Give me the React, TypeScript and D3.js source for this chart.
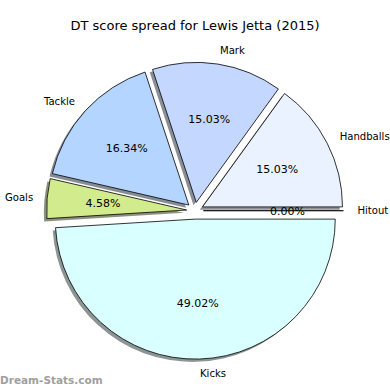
import React from 'react';
import * as d3 from 'd3';

const labels = ['Hitout', 'Handballs', 'Mark', 'Tackle', 'Goals', 'Kicks'];
const values = [0, 15.03, 15.03, 16.34, 4.58, 49.02];
const colors = ['#eaf1ff', '#eaf1ff', '#c4d7ff', '#b4d5ff', '#d2eb8c', '#daffff'];

const W = 390;
const H = 390;
const cx = 195;
const cy = 210.7;
const r = 140;
const explode = 8.4;
const font = 'DejaVu Sans, sans-serif';

export default function App() {
  // matplotlib style: start at 3 o'clock, go counterclockwise
  const pie = d3.pie<number>()
    .sort(null)
    .startAngle(Math.PI / 2)
    .endAngle(Math.PI / 2 - 2 * Math.PI);
  const slices = pie(values);
  const arc = d3.arc<d3.PieArcDatum<number>>().innerRadius(0).outerRadius(r);
  const total = d3.sum(values);

  const shade = (c: string) => {
    const rgb = d3.rgb(c);
    return d3.rgb(rgb.r * 0.3, rgb.g * 0.3, rgb.b * 0.3).formatHex();
  };

  const offset = (s: d3.PieArcDatum<number>) => {
    const mid = (s.startAngle + s.endAngle) / 2;
    const ux = Math.sin(mid);
    const uy = -Math.cos(mid);
    return { ux, uy, ox: cx + ux * explode, oy: cy + uy * explode };
  };

  return (
    <svg width={W} height={H} style={{ position: 'absolute', left: 0, top: 0, background: '#fff' }}>
      <text x={W / 2} y={30} textAnchor="middle" fontFamily={font} fontSize={13}>
        DT score spread for Lewis Jetta (2015)
      </text>
      {slices.map((s, i) => {
        const { ox, oy } = offset(s);
        return (
          <g key={'sh' + i} transform={`translate(${ox - 2.8},${oy + 2.8})`}>
            <path d={arc(s) ?? ''} fill={shade(colors[i])} opacity={0.6} />
          </g>
        );
      })}
      {slices.map((s, i) => {
        const { ox, oy } = offset(s);
        return (
          <g key={'w' + i} transform={`translate(${ox},${oy})`}>
            <path d={arc(s) ?? ''} fill={colors[i]} stroke="#000" strokeWidth={0.8} strokeLinejoin="round" />
          </g>
        );
      })}
      {slices.map((s, i) => {
        const { ux, uy, ox, oy } = offset(s);
        const lx = ox + ux * r * 1.1;
        const ly = oy + uy * r * 1.1;
        const px = ox + ux * r * 0.6;
        const py = oy + uy * r * 0.6;
        const pct = ((values[i] / total) * 100).toFixed(2) + '%';
        return (
          <g key={'t' + i} fontFamily={font}>
            <text x={lx} y={ly} dy="0.35em" fontSize={10.1} textAnchor={ux > 0 ? 'start' : 'end'}>
              {labels[i]}
            </text>
            <text x={px} y={py} dy="0.35em" fontSize={11} textAnchor="middle">
              {pct}
            </text>
          </g>
        );
      })}
      <text x={0} y={384} fontFamily={font} fontSize={10.5} fontWeight="bold" fill="#a0a0a0">
        Dream-Stats.com
      </text>
    </svg>
  );
}
